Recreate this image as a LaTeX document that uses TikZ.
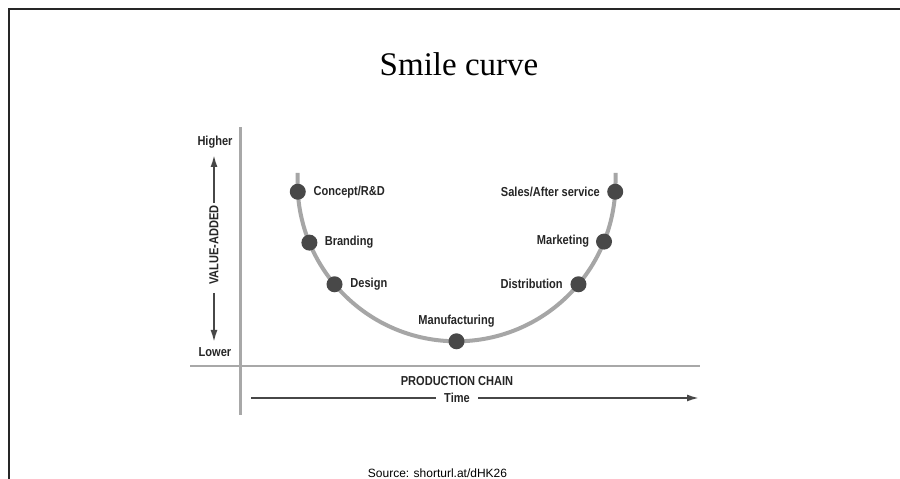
\documentclass[tikz,border=0pt]{standalone}
\usepackage{fontspec}
\setmainfont{Liberation Serif}
\newfontfamily\condf[FakeStretch=0.85]{Liberation Sans}
\newfontfamily\arialf{Liberation Sans}
\usetikzlibrary{arrows.meta,calc}
\definecolor{curvegray}{HTML}{A6A6A6}
\definecolor{axisgray}{HTML}{A8A8A8}
\definecolor{dotgray}{HTML}{484848}
\definecolor{txtgray}{HTML}{262626}
\tikzset{
  lbl/.style={font=\condf\bfseries\fontsize{13}{15}\selectfont, text=txtgray, inner sep=0pt},
  dotn/.style={circle, fill=dotgray, minimum size=16pt, inner sep=0pt},
  darrow/.style={draw=txtgray!85, line width=1.8pt, -{Latex[length=12pt,width=7pt]}},
  dline/.style={draw=txtgray!85, line width=1.8pt},
}
\begin{document}
\begin{tikzpicture}[x=1pt,y=1pt]
\clip (0,0) rectangle (900,479);
\fill[white] (0,0) rectangle (900,479);
% frame
\draw[black!85, line width=2.2pt] (9,0) -- (9,470) -- (901,470);
% title
\node[font=\fontsize{33}{38}\selectfont] (title) at (459,415) {Smile curve};
% axes
\coordinate (vtop) at (240.5,352);
\coordinate (vbot) at (240.5,64);
\coordinate (hl) at (190,113);
\coordinate (hr) at (700,113);
\draw[axisgray, line width=3pt] (vbot) -- (vtop);
\draw[axisgray, line width=2.5pt] (hl) -- (hr);
% y labels
\node[lbl] (higher) at (215,337) {Higher};
\node[lbl] (lower) at (215,127) {Lower};
\node[lbl, rotate=90] (va) at (214,234) {VALUE-ADDED};
\coordinate (uptip) at (214,324);
\coordinate (upst) at (214,276);
\coordinate (dnst) at (214,186);
\coordinate (dntip) at (214,137);
\draw[darrow] (upst) -- (uptip);
\draw[darrow] (dnst) -- (dntip);
% x labels
\node[lbl] (pc) at (457,98) {PRODUCTION CHAIN};
\node[lbl, inner xsep=8pt] (time) at (457,81) {Time};
\coordinate (tl) at (251,81);
\coordinate (tr) at (699,81);
\draw[dline] (tl) -- (time.west);
\draw[darrow] (time.east) -- (tr);
% curve
\coordinate (c) at (456.5,296.7);
\coordinate (ltop) at (297.5,306);
\coordinate (rtop) at (615.5,306);
\draw[curvegray, line width=4pt] (ltop) -- (297.5,296.7) arc[start angle=180, end angle=360, radius=159] -- (rtop);
% dots
\node[dotn] (d1) at ($(c)+(183.4:159)$) {};
\node[dotn] (d2) at ($(c)+(202.3:159)$) {};
\node[dotn] (d3) at ($(c)+(219.9:159)$) {};
\node[dotn] (d4) at ($(c)+(270:159)$) {};
\node[dotn] (d5) at ($(c)+(320.1:159)$) {};
\node[dotn] (d6) at ($(c)+(338.1:159)$) {};
\node[dotn] (d7) at ($(c)+(356.6:159)$) {};
% dot labels
\node[lbl, anchor=west] (l1) at ([xshift=7.5pt]d1.east) {Concept/R\&D};
\node[lbl, anchor=west] (l2) at ([xshift=7pt]d2.east) {Branding};
\node[lbl, anchor=west] (l3) at ([xshift=7.5pt]d3.east) {Design};
\node[lbl, anchor=south] (l4) at ([yshift=6pt]d4.north) {Manufacturing};
\node[lbl, anchor=east] (l5) at ([xshift=-7.5pt]d5.west) {Distribution};
\node[lbl, anchor=east] (l6) at ([xshift=-6.5pt]d6.west) {Marketing};
\node[lbl, anchor=east] (l7) at ([xshift=-7pt]d7.west) {Sales/After service};
% source
\node[font=\arialf\fontsize{12}{14}\selectfont, anchor=base, inner sep=0pt] (src) at (437.5,1) {Source: shorturl.at/dHK26};
\end{tikzpicture}
\end{document}
